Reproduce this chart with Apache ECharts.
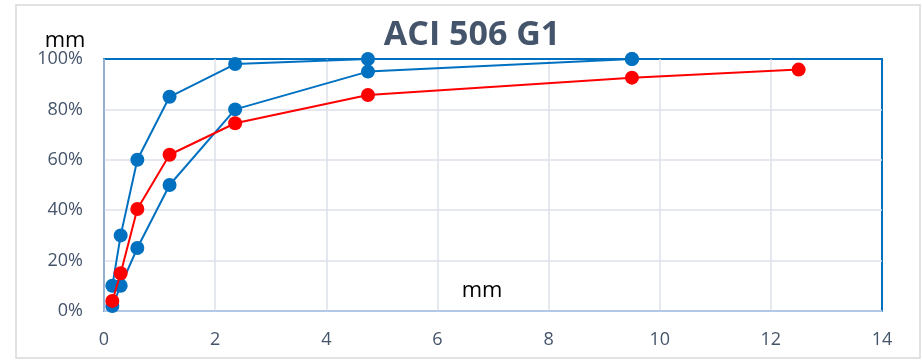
<!DOCTYPE html>
<html>
<head>
<meta charset="utf-8">
<script src="https://cdn.jsdelivr.net/npm/echarts@6/dist/echarts.min.js"></script>
<style>
html,body{margin:0;padding:0;background:#fff;}
#chart{width:922px;height:361px;}
</style>
</head>
<body>
<div id="chart"></div>
<script>
const titleText = 'ACI 506 G1';
const axisUnit = 'mm';
const sieveSizes = [0.15, 0.3, 0.6, 1.18, 2.36, 4.75, 9.5];
const upperLimit = [10, 30, 60, 85, 98, 100, 100];
const lowerLimit = [2, 10, 25, 50, 80, 95, 100];
const redSizes = [0.15, 0.3, 0.6, 1.18, 2.36, 4.75, 9.5, 12.5];
const redValues = [4, 15, 40.5, 62, 74.5, 85.7, 92.6, 95.8];
const xTicks = [0, 2, 4, 6, 8, 10, 12, 14];
const yTicks = [0, 20, 40, 60, 80, 100];

const toPairs = (xs, ys) => xs.map((x, i) => [x, ys[i] / 100]);

const chart = echarts.init(document.getElementById('chart'), null, {renderer: 'canvas'});
const labelColor = '#44546a';
const font = 'Open Sans';

function lineSeries(name, data, color, z) {
  return {
    name: name, type: 'line', data: data, z: z,
    symbol: 'circle', symbolSize: 14,
    lineStyle: {color: color, width: 2},
    itemStyle: {color: color},
    emphasis: {disabled: true},
    animation: false
  };
}

chart.setOption({
  animation: false,
  backgroundColor: '#ffffff',
  title: {
    text: titleText, left: 467, top: 13, textAlign: 'center',
    textStyle: {fontFamily: font, fontWeight: 'bold', fontSize: 34, color: labelColor}
  },
  grid: {
    left: 104, top: 59, width: 778, height: 252,
    outerBoundsMode: 'none', containLabel: false,
    show: true, borderColor: '#0070c0', borderWidth: 2, backgroundColor: 'transparent'
  },
  xAxis: {
    type: 'value', min: xTicks[0], max: xTicks[xTicks.length - 1], interval: 2,
    axisLine: {show: true, lineStyle: {color: '#b4c7e7', width: 1.5}},
    axisTick: {show: false},
    splitLine: {show: true, showMaxLine: false, lineStyle: {color: '#dde2ea', width: 1.5}},
    axisLabel: {color: labelColor, fontFamily: font, fontSize: 18, margin: 20}
  },
  yAxis: {
    type: 'value', min: yTicks[0] / 100, max: yTicks[yTicks.length - 1] / 100, interval: 0.2,
    axisLine: {show: true, lineStyle: {color: '#8faad0', width: 1.5}},
    axisTick: {show: false},
    splitLine: {show: true, showMaxLine: false, lineStyle: {color: '#dde2ea', width: 1.5}},
    axisLabel: {
      color: labelColor, fontFamily: font, fontSize: 18, margin: 21,
      formatter: v => Math.round(v * 100) + '%'
    }
  },
  graphic: [{
    type: 'rect', z: -10, silent: true,
    shape: {x: 16, y: 5, width: 904, height: 353},
    style: {fill: 'none', stroke: '#d9d9d9', lineWidth: 1.5}
  }, {
    type: 'text', z: 10, silent: true, x: 65, y: 41,
    style: {text: axisUnit, fill: '#000', font: '22px "Open Sans"', align: 'center', verticalAlign: 'middle'}
  }, {
    type: 'text', z: 10, silent: true, x: 482, y: 291,
    style: {text: axisUnit, fill: '#000', font: '22px "Open Sans"', align: 'center', verticalAlign: 'middle'}
  }],
  series: [
    lineSeries('Upper', toPairs(sieveSizes, upperLimit), '#0070c0', 2),
    lineSeries('Lower', toPairs(sieveSizes, lowerLimit), '#0070c0', 3),
    lineSeries('Sample', toPairs(redSizes, redValues), '#ff0000', 4)
  ]
});
</script>
</body>
</html>
